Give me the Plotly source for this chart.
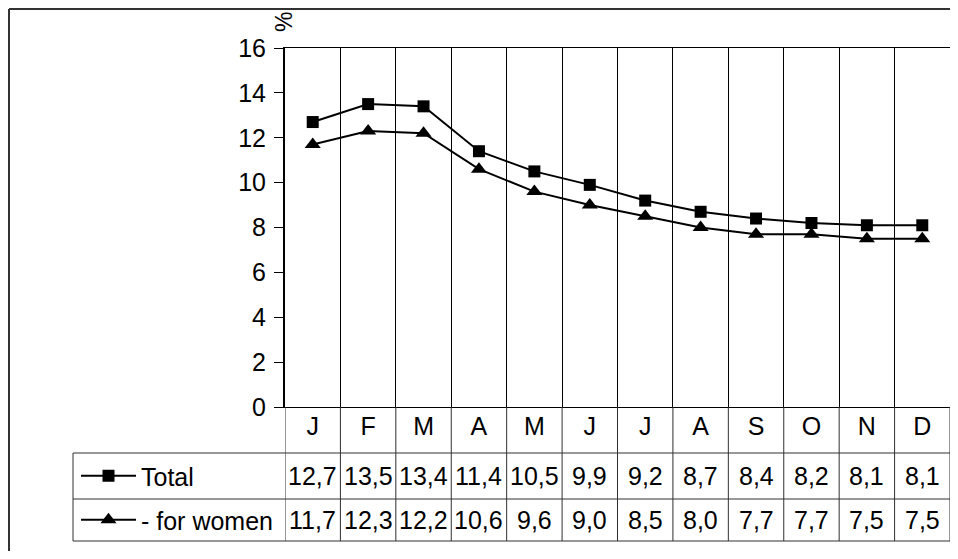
import plotly.graph_objects as go

months = ["J", "F", "M", "A", "M", "J", "J", "A", "S", "O", "N", "D"]
total = [12.7, 13.5, 13.4, 11.4, 10.5, 9.9, 9.2, 8.7, 8.4, 8.2, 8.1, 8.1]
women = [11.7, 12.3, 12.2, 10.6, 9.6, 9.0, 8.5, 8.0, 7.7, 7.7, 7.5, 7.5]
series_names = ["Total", "- for women"]
y_ticks = [0, 2, 4, 6, 8, 10, 12, 14, 16]

OFF = 8  # default page body margin
W, H = 958 - 2 * OFF, 559 - 2 * OFF
FONT = "Liberation Sans, Arial, sans-serif"
FS = 25
RIGHT = 950


def px(x):
    return min(1.0, (x - OFF) / W)


def py(y):
    return 1 - (y - OFF) / H


xcat = list(range(len(months)))

fig = go.Figure()
fig.add_trace(go.Scatter(
    x=xcat, y=total, name=series_names[0], mode="lines+markers",
    line=dict(color="black", width=2),
    marker=dict(symbol="square", size=12, color="black"),
    legend="legend",
))
fig.add_trace(go.Scatter(
    x=xcat, y=women, name=series_names[1], mode="lines+markers",
    line=dict(color="black", width=2),
    marker=dict(symbol="triangle-up", size=14, color="black"),
    legend="legend2",
))

shapes = []
line_col = "#303030"
# outer frame (left and top)
shapes.append(dict(type="line", xref="paper", yref="paper", x0=px(9), x1=px(9),
                   y0=py(9), y1=-0.2, line=dict(color="#333", width=2)))
shapes.append(dict(type="line", xref="paper", yref="paper", x0=px(9), x1=1.2,
                   y0=py(9), y1=py(9), line=dict(color="#333", width=2)))
# column separators below the plot (table)
for i in range(len(months) + 1):
    shapes.append(dict(type="line", xref="x", yref="paper", x0=i - 0.5, x1=i - 0.5,
                       y0=py(407), y1=py(541), line=dict(color=line_col, width=1)))
# table horizontal lines
for yy in (453, 499, 541):
    shapes.append(dict(type="line", xref="paper", yref="paper", x0=px(73), x1=px(RIGHT),
                       y0=py(yy), y1=py(yy), line=dict(color=line_col, width=1)))
shapes.append(dict(type="line", xref="paper", yref="paper", x0=px(73), x1=px(73),
                   y0=py(453), y1=py(541), line=dict(color=line_col, width=1)))

annotations = []
for row_vals, yc in ((total, 476), (women, 520)):
    for i, v in enumerate(row_vals):
        annotations.append(dict(x=i, xref="x", y=py(yc), yref="paper",
                                text=f"{v:.1f}".replace(".", ","), showarrow=False,
                                font=dict(size=FS, color="black", family=FONT),
                                xanchor="center", yanchor="middle"))
annotations.append(dict(x=px(284), y=py(22), xref="paper", yref="paper", text="%",
                        showarrow=False, textangle=-90,
                        font=dict(size=23, color="black", family=FONT),
                        xanchor="center", yanchor="middle"))

legend_common = dict(bgcolor="rgba(0,0,0,0)", borderwidth=0, itemwidth=55,
                     font=dict(size=FS, color="black", family=FONT),
                     xanchor="left", yanchor="middle", itemclick=False)

fig.update_layout(
    width=W, height=H,
    margin=dict(l=0, r=0, t=0, b=0),
    paper_bgcolor="white", plot_bgcolor="white",
    font=dict(family=FONT, color="black", size=FS),
    showlegend=True,
    legend=dict(x=px(76), y=py(476), **legend_common),
    legend2=dict(x=px(76), y=py(520), **legend_common),
    xaxis=dict(type="category", domain=[px(285), px(RIGHT)],
               range=[-0.5, len(months) - 0.5],
               tickmode="array", tickvals=xcat, ticktext=months,
               tickson="boundaries", ticks="", showgrid=True, gridcolor="black",
               gridwidth=1, showline=True, linecolor="black", linewidth=1,
               mirror=True, zeroline=False, automargin=False,
               ticklabelstandoff=-3,
               tickfont=dict(size=FS, color="black", family=FONT)),
    yaxis=dict(domain=[py(407), py(48)], range=[0, 16], tickvals=y_ticks,
               ticks="outside", ticklen=9, tickcolor="black", tickwidth=1,
               ticklabelstandoff=3,
               showgrid=False, showline=True, linecolor="black", linewidth=2,
               mirror=True, zeroline=False, automargin=False,
               tickfont=dict(size=FS, color="black", family=FONT)),
    shapes=shapes, annotations=annotations,
)

fig.write_html("out.html")
